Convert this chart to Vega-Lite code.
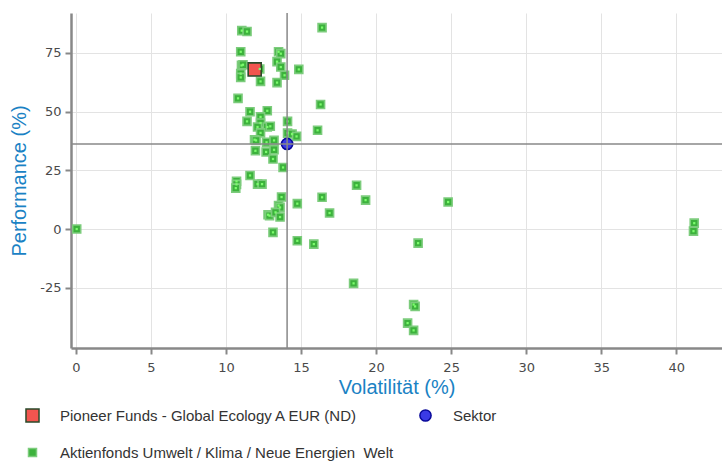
{
  "$schema": "https://vega.github.io/schema/vega-lite/v6.json",
  "autosize": {"type": "none"},
  "padding": {"left": 71, "top": 13, "right": 0, "bottom": 113},
  "width": 651,
  "height": 335,
  "background": "white",
  "config": {
    "view": {"stroke": null},
    "font": "Liberation Sans",
    "axis": {
      "domainColor": "#888888",
      "domainWidth": 2.5,
      "tickColor": "#888888",
      "tickWidth": 2,
      "tickSize": 6,
      "gridColor": "#e3e3e3",
      "gridWidth": 1,
      "labelColor": "#4a4a4a",
      "labelFont": "DejaVu Sans",
      "labelFontSize": 13,
      "titleColor": "#1a82c4",
      "titleFont": "Liberation Sans",
      "titleFontSize": 20,
      "titleFontWeight": "normal"
    },
    "legend": {
      "labelFont": "Liberation Sans",
      "labelFontSize": 15,
      "labelColor": "#333333",
      "labelOffset": 20,
      "labelLimit": 500
    }
  },
  "datasets": {
    "pts": [
      {"vol": 11.05, "perf": 84.4, "serie": "Aktienfonds Umwelt / Klima / Neue Energien\u00a0 Welt"},
      {"vol": 11.4, "perf": 84.0, "serie": "Aktienfonds Umwelt / Klima / Neue Energien\u00a0 Welt"},
      {"vol": 16.4, "perf": 85.7, "serie": "Aktienfonds Umwelt / Klima / Neue Energien\u00a0 Welt"},
      {"vol": 10.98, "perf": 75.4, "serie": "Aktienfonds Umwelt / Klima / Neue Energien\u00a0 Welt"},
      {"vol": 13.5, "perf": 75.4, "serie": "Aktienfonds Umwelt / Klima / Neue Energien\u00a0 Welt"},
      {"vol": 13.65, "perf": 74.6, "serie": "Aktienfonds Umwelt / Klima / Neue Energien\u00a0 Welt"},
      {"vol": 11.03, "perf": 69.6, "serie": "Aktienfonds Umwelt / Klima / Neue Energien\u00a0 Welt"},
      {"vol": 11.13, "perf": 69.9, "serie": "Aktienfonds Umwelt / Klima / Neue Energien\u00a0 Welt"},
      {"vol": 10.98, "perf": 66.1, "serie": "Aktienfonds Umwelt / Klima / Neue Energien\u00a0 Welt"},
      {"vol": 10.98, "perf": 64.5, "serie": "Aktienfonds Umwelt / Klima / Neue Energien\u00a0 Welt"},
      {"vol": 13.4, "perf": 71.2, "serie": "Aktienfonds Umwelt / Klima / Neue Energien\u00a0 Welt"},
      {"vol": 13.65, "perf": 68.9, "serie": "Aktienfonds Umwelt / Klima / Neue Energien\u00a0 Welt"},
      {"vol": 13.9, "perf": 65.4, "serie": "Aktienfonds Umwelt / Klima / Neue Energien\u00a0 Welt"},
      {"vol": 14.85, "perf": 67.9, "serie": "Aktienfonds Umwelt / Klima / Neue Energien\u00a0 Welt"},
      {"vol": 13.4, "perf": 62.3, "serie": "Aktienfonds Umwelt / Klima / Neue Energien\u00a0 Welt"},
      {"vol": 12.3, "perf": 62.8, "serie": "Aktienfonds Umwelt / Klima / Neue Energien\u00a0 Welt"},
      {"vol": 12.25, "perf": 68.1, "serie": "Aktienfonds Umwelt / Klima / Neue Energien\u00a0 Welt"},
      {"vol": 10.8, "perf": 55.6, "serie": "Aktienfonds Umwelt / Klima / Neue Energien\u00a0 Welt"},
      {"vol": 16.3, "perf": 53.0, "serie": "Aktienfonds Umwelt / Klima / Neue Energien\u00a0 Welt"},
      {"vol": 11.6, "perf": 49.9, "serie": "Aktienfonds Umwelt / Klima / Neue Energien\u00a0 Welt"},
      {"vol": 12.75, "perf": 50.3, "serie": "Aktienfonds Umwelt / Klima / Neue Energien\u00a0 Welt"},
      {"vol": 12.3, "perf": 47.7, "serie": "Aktienfonds Umwelt / Klima / Neue Energien\u00a0 Welt"},
      {"vol": 11.4, "perf": 45.8, "serie": "Aktienfonds Umwelt / Klima / Neue Energien\u00a0 Welt"},
      {"vol": 14.1, "perf": 45.8, "serie": "Aktienfonds Umwelt / Klima / Neue Energien\u00a0 Welt"},
      {"vol": 12.3, "perf": 45.1, "serie": "Aktienfonds Umwelt / Klima / Neue Energien\u00a0 Welt"},
      {"vol": 12.1, "perf": 43.4, "serie": "Aktienfonds Umwelt / Klima / Neue Energien\u00a0 Welt"},
      {"vol": 12.75, "perf": 43.4, "serie": "Aktienfonds Umwelt / Klima / Neue Energien\u00a0 Welt"},
      {"vol": 12.95, "perf": 43.7, "serie": "Aktienfonds Umwelt / Klima / Neue Energien\u00a0 Welt"},
      {"vol": 12.3, "perf": 40.9, "serie": "Aktienfonds Umwelt / Klima / Neue Energien\u00a0 Welt"},
      {"vol": 16.1, "perf": 42.0, "serie": "Aktienfonds Umwelt / Klima / Neue Energien\u00a0 Welt"},
      {"vol": 14.1, "perf": 40.8, "serie": "Aktienfonds Umwelt / Klima / Neue Energien\u00a0 Welt"},
      {"vol": 14.4, "perf": 40.4, "serie": "Aktienfonds Umwelt / Klima / Neue Energien\u00a0 Welt"},
      {"vol": 14.7, "perf": 39.4, "serie": "Aktienfonds Umwelt / Klima / Neue Energien\u00a0 Welt"},
      {"vol": 11.9, "perf": 38.0, "serie": "Aktienfonds Umwelt / Klima / Neue Energien\u00a0 Welt"},
      {"vol": 12.0, "perf": 37.7, "serie": "Aktienfonds Umwelt / Klima / Neue Energien\u00a0 Welt"},
      {"vol": 12.7, "perf": 36.9, "serie": "Aktienfonds Umwelt / Klima / Neue Energien\u00a0 Welt"},
      {"vol": 13.2, "perf": 37.7, "serie": "Aktienfonds Umwelt / Klima / Neue Energien\u00a0 Welt"},
      {"vol": 11.96, "perf": 33.3, "serie": "Aktienfonds Umwelt / Klima / Neue Energien\u00a0 Welt"},
      {"vol": 12.67, "perf": 32.8, "serie": "Aktienfonds Umwelt / Klima / Neue Energien\u00a0 Welt"},
      {"vol": 13.2, "perf": 33.7, "serie": "Aktienfonds Umwelt / Klima / Neue Energien\u00a0 Welt"},
      {"vol": 13.13, "perf": 29.8, "serie": "Aktienfonds Umwelt / Klima / Neue Energien\u00a0 Welt"},
      {"vol": 13.8, "perf": 26.2, "serie": "Aktienfonds Umwelt / Klima / Neue Energien\u00a0 Welt"},
      {"vol": 11.6, "perf": 22.8, "serie": "Aktienfonds Umwelt / Klima / Neue Energien\u00a0 Welt"},
      {"vol": 10.7, "perf": 20.3, "serie": "Aktienfonds Umwelt / Klima / Neue Energien\u00a0 Welt"},
      {"vol": 10.7, "perf": 19.0, "serie": "Aktienfonds Umwelt / Klima / Neue Energien\u00a0 Welt"},
      {"vol": 10.65, "perf": 17.4, "serie": "Aktienfonds Umwelt / Klima / Neue Energien\u00a0 Welt"},
      {"vol": 12.1, "perf": 19.1, "serie": "Aktienfonds Umwelt / Klima / Neue Energien\u00a0 Welt"},
      {"vol": 12.4, "perf": 19.1, "serie": "Aktienfonds Umwelt / Klima / Neue Energien\u00a0 Welt"},
      {"vol": 13.7, "perf": 13.6, "serie": "Aktienfonds Umwelt / Klima / Neue Energien\u00a0 Welt"},
      {"vol": 14.75, "perf": 10.8, "serie": "Aktienfonds Umwelt / Klima / Neue Energien\u00a0 Welt"},
      {"vol": 16.4, "perf": 13.5, "serie": "Aktienfonds Umwelt / Klima / Neue Energien\u00a0 Welt"},
      {"vol": 13.5, "perf": 10.0, "serie": "Aktienfonds Umwelt / Klima / Neue Energien\u00a0 Welt"},
      {"vol": 13.6, "perf": 9.2, "serie": "Aktienfonds Umwelt / Klima / Neue Energien\u00a0 Welt"},
      {"vol": 16.9, "perf": 6.8, "serie": "Aktienfonds Umwelt / Klima / Neue Energien\u00a0 Welt"},
      {"vol": 12.8, "perf": 6.1, "serie": "Aktienfonds Umwelt / Klima / Neue Energien\u00a0 Welt"},
      {"vol": 12.9, "perf": 5.7, "serie": "Aktienfonds Umwelt / Klima / Neue Energien\u00a0 Welt"},
      {"vol": 13.3, "perf": 7.1, "serie": "Aktienfonds Umwelt / Klima / Neue Energien\u00a0 Welt"},
      {"vol": 13.6, "perf": 5.1, "serie": "Aktienfonds Umwelt / Klima / Neue Energien\u00a0 Welt"},
      {"vol": 13.13, "perf": -1.4, "serie": "Aktienfonds Umwelt / Klima / Neue Energien\u00a0 Welt"},
      {"vol": 14.75, "perf": -5.0, "serie": "Aktienfonds Umwelt / Klima / Neue Energien\u00a0 Welt"},
      {"vol": 15.85, "perf": -6.4, "serie": "Aktienfonds Umwelt / Klima / Neue Energien\u00a0 Welt"},
      {"vol": 0.05, "perf": 0.0, "serie": "Aktienfonds Umwelt / Klima / Neue Energien\u00a0 Welt"},
      {"vol": 18.7, "perf": 18.6, "serie": "Aktienfonds Umwelt / Klima / Neue Energien\u00a0 Welt"},
      {"vol": 19.3, "perf": 12.3, "serie": "Aktienfonds Umwelt / Klima / Neue Energien\u00a0 Welt"},
      {"vol": 24.8, "perf": 11.5, "serie": "Aktienfonds Umwelt / Klima / Neue Energien\u00a0 Welt"},
      {"vol": 22.8, "perf": -6.0, "serie": "Aktienfonds Umwelt / Klima / Neue Energien\u00a0 Welt"},
      {"vol": 18.5, "perf": -23.1, "serie": "Aktienfonds Umwelt / Klima / Neue Energien\u00a0 Welt"},
      {"vol": 22.5, "perf": -32.1, "serie": "Aktienfonds Umwelt / Klima / Neue Energien\u00a0 Welt"},
      {"vol": 22.6, "perf": -32.9, "serie": "Aktienfonds Umwelt / Klima / Neue Energien\u00a0 Welt"},
      {"vol": 22.1, "perf": -40.0, "serie": "Aktienfonds Umwelt / Klima / Neue Energien\u00a0 Welt"},
      {"vol": 22.5, "perf": -43.1, "serie": "Aktienfonds Umwelt / Klima / Neue Energien\u00a0 Welt"},
      {"vol": 41.2, "perf": 2.5, "serie": "Aktienfonds Umwelt / Klima / Neue Energien\u00a0 Welt"},
      {"vol": 41.15, "perf": -0.9, "serie": "Aktienfonds Umwelt / Klima / Neue Energien\u00a0 Welt"},
      {"vol": 11.91, "perf": 67.9, "serie": "Pioneer Funds - Global Ecology A EUR (ND)"},
      {"vol": 14.07, "perf": 36.2, "serie": "Sektor"}
    ],
    "vline": [{"vol": 14.07}],
    "hline": [{"perf": 36.2}]
  },
  "layer": [
    {
      "data": {"name": "pts"},
      "mark": {"type": "point", "filled": true, "strokeWidth": 1.6, "opacity": 1, "fillOpacity": 1, "strokeOpacity": 1},
      "encoding": {
        "x": {
          "field": "vol", "type": "quantitative",
          "scale": {"domain": [-0.33, 43.05], "nice": false, "zero": false},
          "axis": {"title": "Volatilität (%)", "values": [0, 5, 10, 15, 20, 25, 30, 35, 40], "titlePadding": 3, "labelPadding": 7}
        },
        "y": {
          "field": "perf", "type": "quantitative",
          "scale": {"domain": [-50.6, 91.9], "nice": false, "zero": false},
          "axis": {"title": "Performance (%)", "values": [-25, 0, 25, 50, 75], "labelExpr": "'' + datum.value", "titlePadding": 10, "labelPadding": 4}
        },
        "fill": {
          "field": "serie", "type": "nominal",
          "sort": null,
          "scale": {
            "type": "ordinal",
            "domain": ["Pioneer Funds - Global Ecology A EUR (ND)", "Aktienfonds Umwelt / Klima / Neue Energien\u00a0 Welt", "Sektor"],
            "range": ["#f2554f", "#3cb23c", "#3a3ae6"]
          },
          "legend": {
            "title": null,
            "orient": "none",
            "legendX": -46,
            "legendY": 395,
            "columns": 2,
            "gridAlign": "none",
            "rowPadding": 19,
            "columnPadding": 22
          }
        },
        "stroke": {
          "field": "serie", "type": "nominal",
          "sort": null,
          "scale": {
            "type": "ordinal",
            "domain": ["Pioneer Funds - Global Ecology A EUR (ND)", "Aktienfonds Umwelt / Klima / Neue Energien\u00a0 Welt", "Sektor"],
            "range": ["#2a4a2a", "#7ccc7c", "#0a0a9a"]
          },
          "legend": {
            "title": null,
            "orient": "none",
            "legendX": -46,
            "legendY": 395,
            "columns": 2,
            "gridAlign": "none",
            "rowPadding": 19,
            "columnPadding": 22
          }
        },
        "shape": {
          "field": "serie", "type": "nominal",
          "sort": null,
          "scale": {
            "type": "ordinal",
            "domain": ["Pioneer Funds - Global Ecology A EUR (ND)", "Aktienfonds Umwelt / Klima / Neue Energien\u00a0 Welt", "Sektor"],
            "range": ["square", "square", "circle"]
          },
          "legend": {
            "title": null,
            "orient": "none",
            "legendX": -46,
            "legendY": 395,
            "columns": 2,
            "gridAlign": "none",
            "rowPadding": 19,
            "columnPadding": 22
          }
        },
        "size": {
          "field": "serie", "type": "nominal",
          "sort": null,
          "scale": {
            "type": "ordinal",
            "domain": ["Pioneer Funds - Global Ecology A EUR (ND)", "Aktienfonds Umwelt / Klima / Neue Energien\u00a0 Welt", "Sektor"],
            "range": [170, 64, 125]
          },
          "legend": {
            "title": null,
            "orient": "none",
            "legendX": -46,
            "legendY": 395,
            "columns": 2,
            "gridAlign": "none",
            "rowPadding": 19,
            "columnPadding": 22
          }
        }
      }
    },
    {
      "data": {"name": "pts"},
      "transform": [{"filter": "datum.serie !== 'Sektor' && datum.serie !== 'Pioneer Funds - Global Ecology A EUR (ND)'"}],
      "mark": {"type": "square", "size": 5, "color": "#7dfc6e", "opacity": 1},
      "encoding": {
        "x": {"field": "vol", "type": "quantitative"},
        "y": {"field": "perf", "type": "quantitative"}
      }
    },
    {
      "data": {"name": "vline"},
      "mark": {"type": "rule", "color": "#888888", "strokeWidth": 1.5},
      "encoding": {"x": {"field": "vol", "type": "quantitative"}}
    },
    {
      "data": {"name": "hline"},
      "mark": {"type": "rule", "color": "#888888", "strokeWidth": 1.5},
      "encoding": {"y": {"field": "perf", "type": "quantitative"}}
    }
  ]
}
